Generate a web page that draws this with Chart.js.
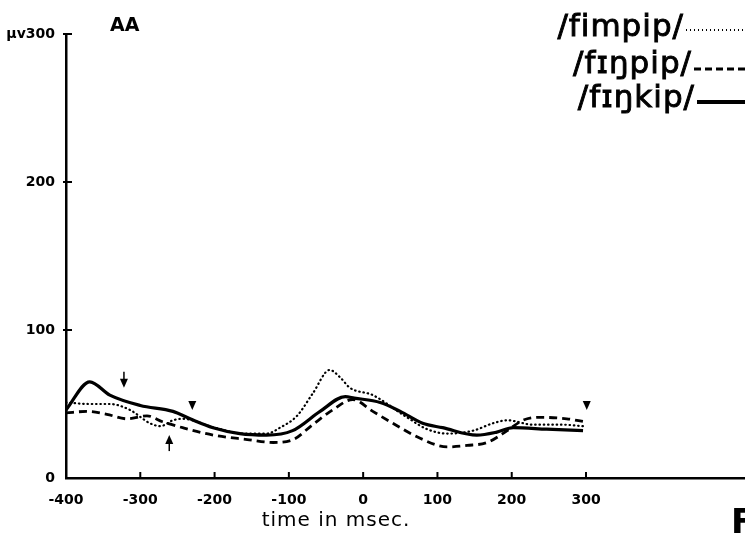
<!DOCTYPE html>
<html>
<head>
<meta charset="utf-8">
<script src="https://cdn.jsdelivr.net/npm/chart.js@4"></script>
<style>
  html, body { margin: 0; padding: 0; background: #fff; }
  canvas { display: block; }
</style>
</head>
<body>
<canvas id="c" width="745" height="536"></canvas>
<script>
// Averaged evoked potential (µV) around the stop closure, speaker AA
const seriesLabels = ['/fimpip/', '/fɪŋpip/', '/fɪŋkip/'];

const fimpipTime  = [-400, -368, -341, -314, -287, -273, -256, -243, -200, -160, -130, -112, -89, -68, -45, -31, -18, 13, 59, 86, 113, 148, 175, 194, 229, 269, 296];
const fimpipValue = [51, 50, 50, 46, 37, 35, 39, 40, 34, 30, 30, 34, 42, 57, 73, 68, 61, 56, 41, 33, 30, 32, 37, 39, 36, 36, 35];

const finpipTime  = [-400, -372, -345, -318, -291, -270, -243, -202, -156, -121, -94, -68, -41, -14, 13, 40, 76, 113, 140, 167, 194, 215, 238, 274, 298];
const finpipValue = [44, 45, 43, 40, 42, 38, 34, 29, 26, 24, 26, 36, 46, 53, 45, 37, 27, 21, 22, 24, 32, 39, 41, 40, 38];

const finkipTime  = [-400, -368, -341, -300, -256, -233, -202, -166, -130, -95, -58, -24, -12, 23, 50, 80, 107, 153, 180, 202, 247, 296];
const finkipValue = [46, 65, 56, 49, 45, 40, 34, 30, 29, 32, 45, 55, 54, 51, 45, 37, 34, 29, 31, 34, 33, 32];

// event markers: time, amplitude, direction (1 = points down, -1 = points up), stem
const markerTime  = [-322, -230, -261, 301];
const markerValue = [61, 46, 29, 46];
const markerDir   = [1, 1, -1, 1];
const markerStem  = [true, false, true, false];

const xTickValues = [-400, -300, -200, -100, 0, 100, 200, 300];
const yTickValues = [0, 100, 200, 300];

const pts = (t, v) => t.map((x, i) => ({ x: x, y: v[i] }));

const overlay = {
  id: 'overlay',
  afterDraw(chart) {
    const ctx = chart.ctx;
    const xs = chart.scales.x, ys = chart.scales.y;
    ctx.save();
    ctx.strokeStyle = '#000';
    ctx.fillStyle = '#000';

    // tick marks
    ctx.lineWidth = 2;
    xTickValues.forEach(v => {
      if (v === -400) return;
      const px = xs.getPixelForValue(v);
      ctx.beginPath();
      ctx.moveTo(px, ys.bottom);
      ctx.lineTo(px, ys.bottom - 6);
      ctx.stroke();
    });
    yTickValues.forEach(v => {
      if (v === 0) return;
      const py = ys.getPixelForValue(v);
      ctx.beginPath();
      ctx.moveTo(xs.left - 3, py);
      ctx.lineTo(xs.left + 6, py);
      ctx.stroke();
    });

    // event markers
    markerTime.forEach((t, i) => {
      const px = xs.getPixelForValue(t);
      const py = ys.getPixelForValue(markerValue[i]);
      const d = markerDir[i];
      ctx.beginPath();
      ctx.moveTo(px, py);
      ctx.lineTo(px - 4, py - d * 9);
      ctx.lineTo(px + 4, py - d * 9);
      ctx.closePath();
      ctx.fill();
      if (markerStem[i]) {
        ctx.lineWidth = 1.5;
        ctx.beginPath();
        ctx.moveTo(px, py - d * 8);
        ctx.lineTo(px, py - d * 16);
        ctx.stroke();
      }
    });

    // legend
    ctx.font = '31px "DejaVu Sans"';
    ctx.letterSpacing = '1px';
    ctx.textAlign = 'right';
    ctx.textBaseline = 'alphabetic';
    const rows = [
      { y: 36, end: 684, line: 30, dash: [1, 3], w: 2 },
      { y: 73, end: 692, line: 69, dash: [7, 4], w: 3 },
      { y: 107, end: 695, line: 102, dash: [], w: 4 }
    ];
    rows.forEach((r, i) => {
      ctx.lineWidth = 0.9;
      ctx.fillText(seriesLabels[i], r.end, r.y);
      ctx.strokeText(seriesLabels[i], r.end, r.y);
      ctx.setLineDash(r.dash);
      ctx.lineWidth = r.w;
      ctx.beginPath();
      ctx.moveTo(r.end + 2, r.line);
      ctx.lineTo(745, r.line);
      ctx.stroke();
      ctx.setLineDash([]);
    });
    ctx.letterSpacing = '0px';

    // captions
    ctx.textAlign = 'left';
    ctx.font = 'bold 19px "DejaVu Sans"';
    ctx.fillText('AA', 110, 31);
    ctx.textAlign = 'center';
    ctx.font = '20px "DejaVu Sans"';
    ctx.letterSpacing = '1px';
    ctx.fillText('time in msec.', 336, 526);
    ctx.letterSpacing = '0px';
    ctx.textAlign = 'left';
    ctx.font = 'bold 34px "DejaVu Sans"';
    ctx.fillText('F', 731, 533);
    ctx.restore();
  }
};

new Chart(document.getElementById('c'), {
  type: 'line',
  data: {
    datasets: [
      {
        label: seriesLabels[0],
        data: pts(fimpipTime, fimpipValue),
        borderColor: '#000',
        borderWidth: 2.2,
        borderDash: [0.5, 3.8],
        borderCapStyle: 'round',
        pointRadius: 0,
        cubicInterpolationMode: 'monotone'
      },
      {
        label: seriesLabels[1],
        data: pts(finpipTime, finpipValue),
        borderColor: '#000',
        borderWidth: 2.8,
        borderDash: [8, 5],
        pointRadius: 0,
        cubicInterpolationMode: 'monotone'
      },
      {
        label: seriesLabels[2],
        data: pts(finkipTime, finkipValue),
        borderColor: '#000',
        borderWidth: 3.2,
        pointRadius: 0,
        cubicInterpolationMode: 'monotone'
      }
    ]
  },
  options: {
    responsive: false,
    animation: false,
    layout: { padding: { top: 34, right: 0, left: 0, bottom: 0 } },
    plugins: { legend: { display: false }, tooltip: { enabled: false } },
    scales: {
      x: {
        type: 'linear',
        min: -400,
        max: 514,
        afterBuildTicks: s => { s.ticks = xTickValues.map(v => ({ value: v })); },
        afterFit: s => { s.height = 58; },
        grid: { display: false },
        border: { display: true, color: '#000', width: 2.5 },
        ticks: {
          color: '#000',
          padding: 6,
          maxRotation: 0,
          font: { family: '"DejaVu Sans"', weight: 'bold', size: 14 }
        }
      },
      y: {
        min: 0,
        max: 300,
        afterBuildTicks: s => { s.ticks = yTickValues.map(v => ({ value: v })); },
        afterFit: s => { s.width = 66; },
        grid: { display: false },
        border: { display: true, color: '#000', width: 2.5 },
        ticks: {
          color: '#000',
          padding: 3,
          font: { family: '"DejaVu Sans"', weight: 'bold', size: 14 },
          callback: v => (v === 300 ? 'µv300' : String(v))
        }
      }
    }
  },
  plugins: [overlay]
});
</script>
</body>
</html>
